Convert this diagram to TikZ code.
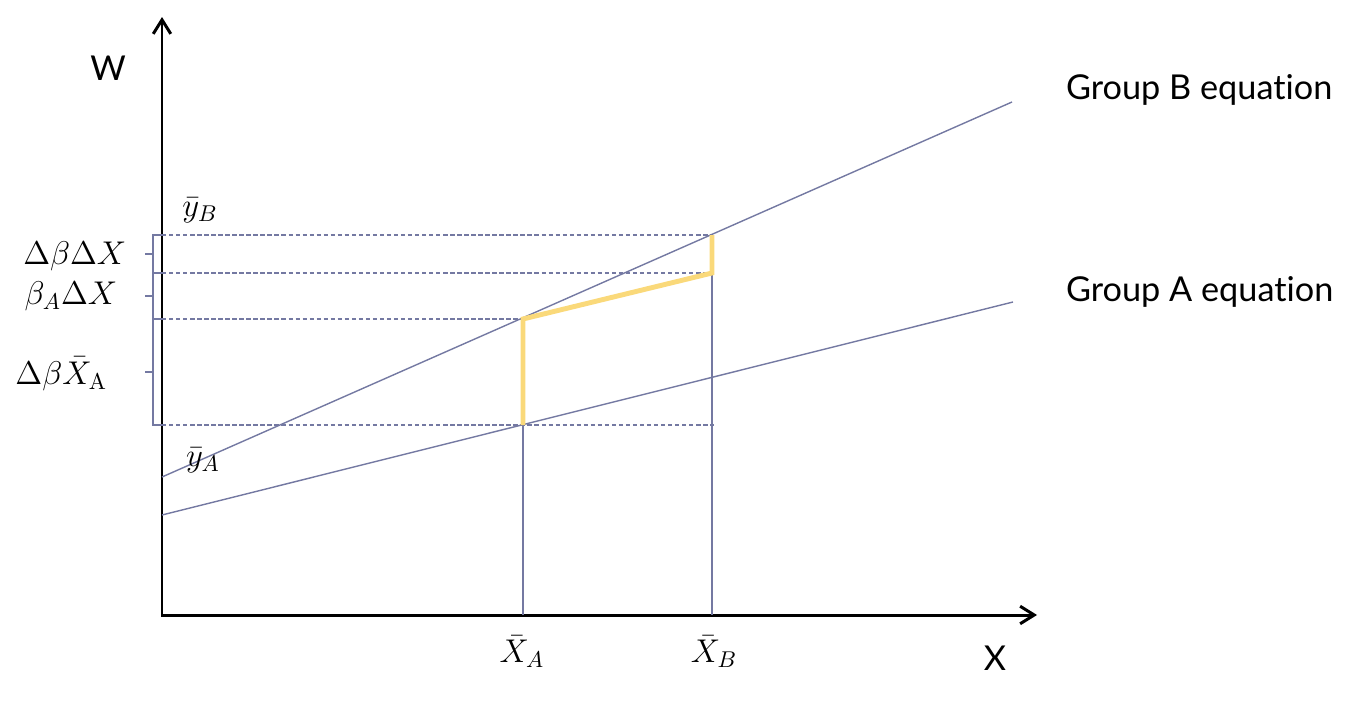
\documentclass[tikz,border=0pt]{standalone}
\usepackage{fontspec}
\newfontfamily\labelfont{Lato}[Ligatures=NoCommon]
\usepackage{tikz}
\usetikzlibrary{positioning,arrows.meta,calc}
\definecolor{linegray}{HTML}{7479A2}
\definecolor{pathyellow}{HTML}{FAD97A}

\begin{document}
\begin{tikzpicture}[x=0.02cm, y=-0.02cm,
    axis/.style={line width=1.7pt, {Straight Barb[length=8pt,width=10pt]}-{Straight Barb[length=8pt,width=10pt]}},
    eqline/.style={linegray, line width=0.8pt},
    guide/.style={linegray, line width=0.6pt, dash pattern=on 2.5pt off 1.5pt},
    brace/.style={linegray, line width=0.8pt},
    mathlbl/.style={inner sep=1pt, scale=1.3, font=\fontsize{14.4}{17}\selectfont},
    txtlbl/.style={inner sep=1pt, font=\labelfont\fontsize{19.5}{23}\selectfont}]
    \useasboundingbox (0,0) rectangle (1362,703);

    % axes
    \coordinate (O) at (162,615);
    \coordinate (ytip) at (162,17);
    \coordinate (xtip) at (1037,615);
    \draw[axis] (ytip) -- (O) -- (xtip);
    \node[txtlbl] (wlbl) at (108,68) {W};
    \node[txtlbl] (xlbl) at (995,658) {X};

    % group equations
    \coordinate (bStart) at (162,477);
    \coordinate (bEnd) at (1012,102);
    \coordinate (aStart) at (162,515);
    \coordinate (aEnd) at (1013,302);
    \draw[eqline] (bStart) -- (bEnd);
    \draw[eqline] (aStart) -- (aEnd);
    \node[txtlbl, anchor=west] (grpB) at (1064,90) {Group B equation};
    \node[txtlbl, anchor=west] (grpA) at (1064,292) {Group A equation};

    % points on the lines
    \coordinate (aXA) at (523,425);
    \coordinate (bXA) at (523,319);
    \coordinate (mXB) at (712,273);
    \coordinate (bXB) at (712,235);
    \coordinate (xA) at (523,615);
    \coordinate (xB) at (712,615);
    \coordinate (yTop) at (162,235);
    \coordinate (yMid) at (162,273);
    \coordinate (yLow) at (162,319);
    \coordinate (yBot) at (162,425);
    \coordinate (gEnd) at (714,425);

    % guides
    \draw[guide] (yTop) -- (bXB);
    \draw[guide] (yMid) -- (mXB);
    \draw[guide] (yLow) -- (bXA);
    \draw[guide] (yBot) -- (gEnd);
    \draw[eqline] (xA) -- (aXA);
    \draw[eqline] (xB) -- (mXB);

    % decomposition path
    \draw[pathyellow, line width=2.8pt, line join=miter]
        (aXA) -- (bXA) -- (mXB) -- (bXB);

    % braces
    \foreach \t/\b in {yTop/yMid, yMid/yLow, yLow/yBot} {
        \draw[brace] (\t) -- ++(-9,0) |- (\b);
        \draw[brace] ($(\t)!0.5!(\b)+(-9,0)$) -- ++(-8,0);
    }

    % labels
    \node[mathlbl, anchor=east] (dbdx) at (129,256) {$\Delta\beta\Delta X$};
    \node[mathlbl, anchor=east] (badx) at (120,296) {$\beta_A\Delta X$};
    \node[mathlbl, anchor=east] (dbxa) at (110,374) {$\Delta\beta\bar{X}_{\mathrm{A}}$};
    \node[mathlbl] (ybarB) at (200,210) {$\bar{y}_B$};
    \node[mathlbl] (ybarA) at (203,460) {$\bar{y}_A$};
    \node[mathlbl] (xbarA) at (522,652) {$\bar{X}_A$};
    \node[mathlbl] (xbarB) at (714,652) {$\bar{X}_B$};
\end{tikzpicture}
\end{document}
